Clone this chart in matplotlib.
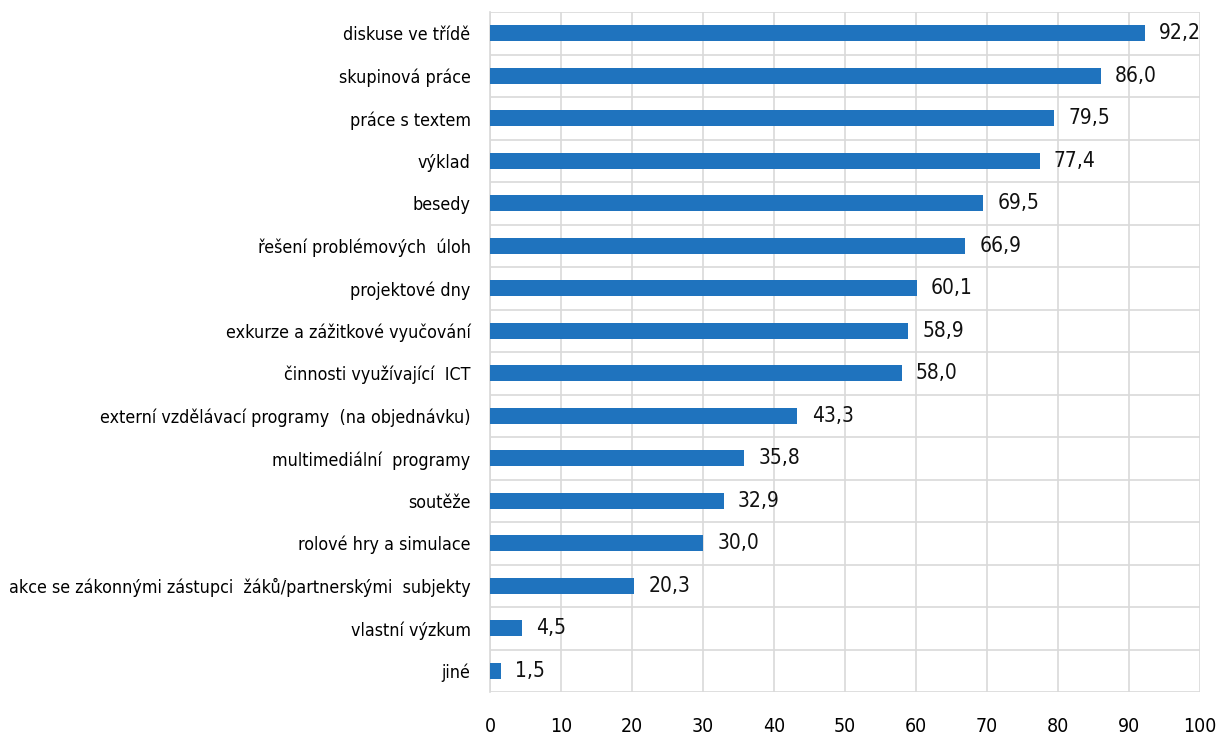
import matplotlib.pyplot as plt
from matplotlib import font_manager as fm

categories = ["diskuse ve třídě", "skupinová práce", "práce s textem", "výklad", "besedy",
              "řešení problémových  úloh", "projektové dny", "exkurze a zážitkové vyučování",
              "činnosti využívající  ICT", "externí vzdělávací programy  (na objednávku)",
              "multimediální  programy", "soutěže", "rolové hry a simulace",
              "akce se zákonnými zástupci  žáků/partnerskými  subjekty", "vlastní výzkum", "jiné"]
values = [92.2, 86.0, 79.5, 77.4, 69.5, 66.9, 60.1, 58.9, 58.0, 43.3, 35.8, 32.9, 30.0, 20.3, 4.5, 1.5]
xticks = [0, 10, 20, 30, 40, 50, 60, 70, 80, 90, 100]

names = {f.name for f in fm.fontManager.ttflist}
fam = "Liberation Sans Narrow" if "Liberation Sans Narrow" in names else "DejaVu Sans"
plt.rcParams['font.family'] = [fam, 'DejaVu Sans']
if fam == "DejaVu Sans":
    plt.rcParams['font.stretch'] = 'condensed'

fig = plt.figure(figsize=(12.19, 7.35), dpi=100)
ax = fig.add_axes([490/1219, 1 - 692/735, 710/1219, 680/735])

n = len(categories)
ypos = list(range(n))
ax.barh(ypos, values, height=0.38, color="#1F73BE", zorder=3)
for y, v in zip(ypos, values):
    ax.text(v + 2.0, y, f"{v:.1f}".replace(".", ","), va="center", ha="left", fontsize=15, color="#111111")

ax.set_xlim(0, 100)
ax.set_ylim(n - 0.5, -0.5)
ax.set_xticks(xticks)
ax.set_xticklabels([str(t) for t in xticks], fontsize=14)
ax.set_yticks(ypos)
ax.set_yticklabels(categories, fontsize=12.8)
ax.set_yticks([i - 0.5 for i in range(n + 1)], minor=True)
ax.grid(axis="x", color="#D9D9D9", linewidth=1.2, zorder=0)
ax.grid(axis="y", which="minor", color="#D9D9D9", linewidth=1.2, zorder=0)
ax.grid(axis="y", which="major", visible=False)
ax.tick_params(axis="both", which="both", length=0)
ax.tick_params(axis="x", pad=18)
ax.tick_params(axis="y", pad=14)
for s in ["top", "right", "bottom"]:
    ax.spines[s].set_visible(False)
ax.spines["left"].set_color("#D9D9D9")
ax.spines["left"].set_linewidth(1.2)

fig.savefig("out.png", dpi=100)
